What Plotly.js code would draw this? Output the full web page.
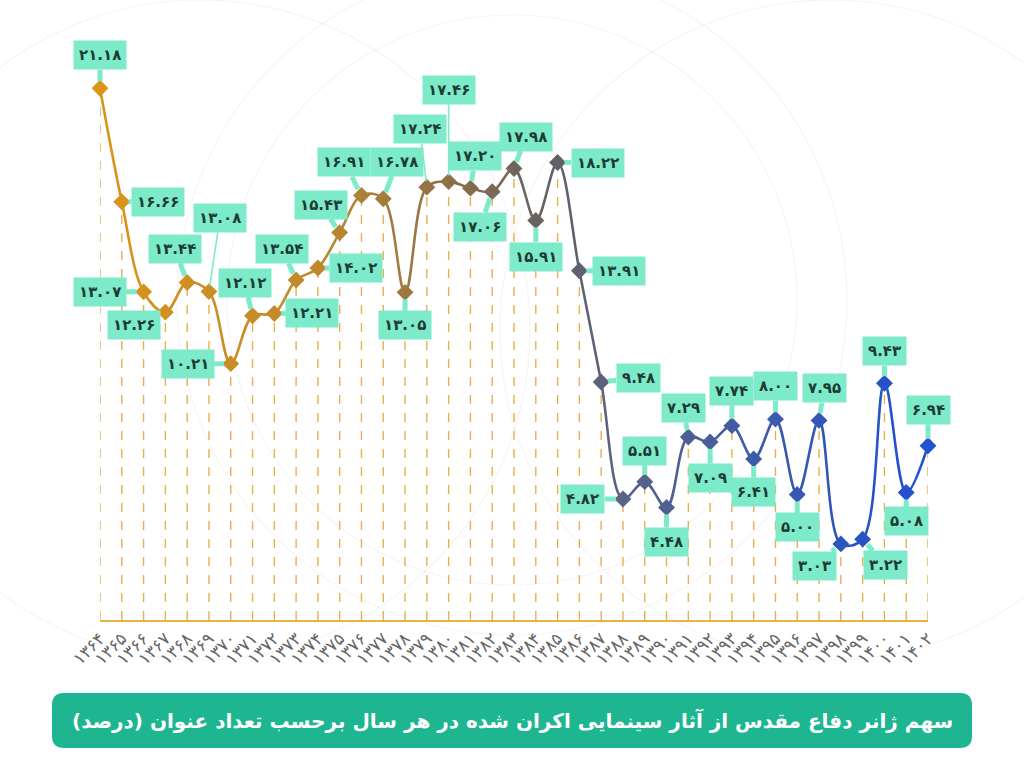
<!DOCTYPE html>
<html>
<head>
<meta charset="utf-8">
<script src="https://cdn.plot.ly/plotly-3.0.1.min.js"></script>
<style>html,body{margin:0;padding:0;background:#fff;}#chart{width:1024px;height:765px;}</style>
</head>
<body>
<div id="chart"></div>
<script>
// ---- data ----
const years = [1364,1365,1366,1367,1368,1369,1370,1371,1372,1373,1374,1375,1376,1377,1378,1379,1380,1381,1382,1383,1384,1385,1386,1387,1388,1389,1390,1391,1392,1393,1394,1395,1396,1397,1398,1399,1400,1401,1402];
const shares = [21.18,16.66,13.07,12.26,13.44,13.08,10.21,12.12,12.21,13.54,14.02,15.43,16.91,16.78,13.05,17.24,17.46,17.20,17.06,17.98,15.91,18.22,13.91,9.48,4.82,5.51,4.48,7.29,7.09,7.74,6.41,8.00,5.00,7.95,3.03,3.22,9.43,5.08,6.94];
const chartTitle = 'سهم ژانر دفاع مقدس از آثار سینمایی اکران شده در هر سال برحسب تعداد عنوان (درصد)';

// ---- label placement (pixel offsets of each value box from its point) ----
const labelOffsets = [
  [0,-33],[36,0],[-44,0],[-31,13],[-12,-34],[11,-74],[-43,0],[-8,-33],[38,0],[-14,-31],
  [38,0],[-19,-28],[-17,-33],[14,-37],[0,33],[-7,-58],[0,-92],[5,-32],[-12,35],[12,-32],
  [0,36],[40,0],[40,0],[37,-4],[-40,0],[0,-31],[0,34],[-5,-29],[0,36],[0,-35],
  [0,33],[0,-33],[0,33],[5,-32],[-26,22],[23,26],[0,-32],[0,29],[0,-36]
];

// ---- helpers ----
const fa = s => String(s).replace(/[0-9]/g, d => '۰۱۲۳۴۵۶۷۸۹'[+d]);
const stops = [[0,[218,148,24]],[10,[190,137,46]],[16,[140,112,72]],[21,[95,96,104]],[24,[90,99,132]],[30,[62,91,168]],[36,[37,82,200]],[38,[34,82,208]]];
function colorAt(t){
  for(let i=0;i<stops.length-1;i++){
    const [a,ca]=stops[i],[b,cb]=stops[i+1];
    if(t>=a && t<=b){
      const f=(t-a)/(b-a);
      const c=ca.map((v,k)=>Math.round(v+(cb[k]-v)*f));
      return 'rgb('+c.join(',')+')';
    }
  }
  return 'rgb(34,82,208)';
}

const L=100, R=96, T=40, B=145, W=1024, H=765;
const plotW=W-L-R, plotH=H-T-B;
const n=years.length, nSeg=n-1;
const ymax=23.1;

const traces=[];
// dashed drop lines
const dx=[],dy=[];
years.forEach((yr,i)=>{dx.push(yr,yr,null);dy.push(0,shares[i],null);});
traces.push({x:dx,y:dy,mode:'lines',line:{color:'#E6B04C',width:1.4,dash:'dash'},hoverinfo:'skip',showlegend:false,xaxis:'x',yaxis:'y'});

const layout={
  width:W,height:H,
  margin:{l:L,r:R,t:T,b:B},
  paper_bgcolor:'#ffffff',plot_bgcolor:'rgba(0,0,0,0)',
  showlegend:false,
  font:{family:'DejaVu Sans, Noto Sans, sans-serif'},
  xaxis:{range:[years[0],years[n-1]],domain:[0,1],tickvals:years,ticktext:years.map(fa),tickangle:-45,
    tickfont:{size:17,color:'#666',family:'DejaVu Sans, sans-serif'},showgrid:false,zeroline:false,
    showline:true,linecolor:'#E8B14B',linewidth:2,ticks:'',fixedrange:true},
  yaxis:{range:[0,ymax],domain:[0,1],visible:false,fixedrange:true},
  shapes:[],annotations:[]
};

// gradient line: same spline drawn in each interval's clip window
for(let k=0;k<nSeg;k++){
  const ax='x'+(k+2);
  layout['xaxis'+(k+2)]={domain:[k/nSeg,(k+1)/nSeg],range:[years[k],years[k+1]],anchor:'y',visible:false,fixedrange:true};
  traces.push({x:years,y:shares,xaxis:ax,yaxis:'y',mode:'lines',line:{shape:'spline',smoothing:1,color:colorAt(k+0.5),width:2.6},hoverinfo:'skip',showlegend:false});
}
// markers
traces.push({x:years,y:shares,mode:'markers',xaxis:'x',yaxis:'y',cliponaxis:false,
  marker:{symbol:'diamond',size:13,color:years.map((_,i)=>colorAt(i))},showlegend:false});

// value labels
years.forEach((yr,i)=>{
  const [ox,oy]=labelOffsets[i];
  const far = Math.abs(oy)>50;
  layout.annotations.push({x:yr,y:shares[i],xref:'x',yref:'y',text:'<b>'+fa(shares[i].toFixed(2))+'</b>',
    showarrow:true,ax:ox,ay:oy,arrowhead:0,arrowwidth:far?1.6:5,arrowcolor:'#7DEBC9',standoff:far?6:7,
    bgcolor:'#7DEBC9',borderpad:5,font:{size:15,color:'#1E3A34',family:'DejaVu Sans, sans-serif'}});
});

// background decorative circles (pixel -> paper)
const px=x=>(x-L)/plotW, py=y=>(T+plotH-y)/plotH;
[[512,300,285],[512,300,335],[200,330,330],[830,330,330]].forEach(([cx,cy,r])=>{
  layout.shapes.push({type:'circle',xref:'paper',yref:'paper',x0:px(cx-r),x1:px(cx+r),y0:py(cy+r),y1:py(cy-r),
    line:{color:'rgba(0,0,0,0.045)',width:1.2},layer:'below'});
});

// title banner
const bx0=52,bx1=972,by0=693,by1=748,rr=12;
const X=v=>px(v),Y=v=>py(v);
const path=`M ${X(bx0+rr)} ${Y(by0)} L ${X(bx1-rr)} ${Y(by0)} Q ${X(bx1)} ${Y(by0)} ${X(bx1)} ${Y(by0+rr)} L ${X(bx1)} ${Y(by1-rr)} Q ${X(bx1)} ${Y(by1)} ${X(bx1-rr)} ${Y(by1)} L ${X(bx0+rr)} ${Y(by1)} Q ${X(bx0)} ${Y(by1)} ${X(bx0)} ${Y(by1-rr)} L ${X(bx0)} ${Y(by0+rr)} Q ${X(bx0)} ${Y(by0)} ${X(bx0+rr)} ${Y(by0)} Z`;
layout.shapes.push({type:'path',xref:'paper',yref:'paper',path:path,fillcolor:'#1DB691',line:{width:0},layer:'above'});
layout.annotations.push({xref:'paper',yref:'paper',x:X(512),y:Y(720),text:'<b>'+chartTitle+'</b>',showarrow:false,
  font:{size:20,color:'#ffffff',family:'DejaVu Sans, sans-serif'},xanchor:'center',yanchor:'middle'});

Plotly.newPlot('chart',traces,layout,{displayModeBar:false,staticPlot:true});
</script>
</body>
</html>
